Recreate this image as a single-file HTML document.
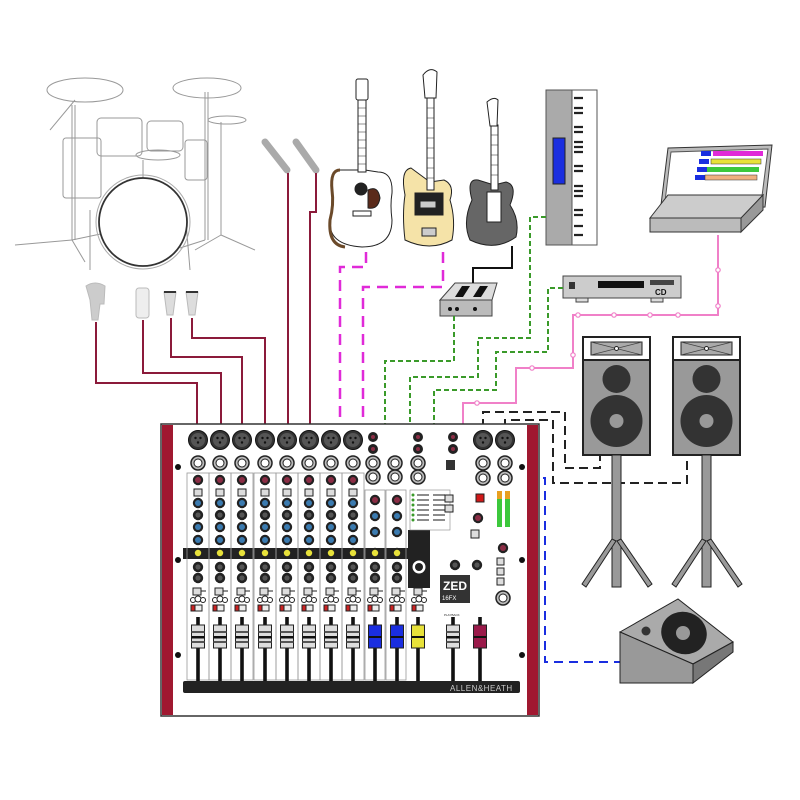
<!DOCTYPE html>
<html><head><meta charset="utf-8"><style>
html,body{margin:0;padding:0;background:#fff;width:800px;height:800px;overflow:hidden}
svg{display:block}
text{font-family:"Liberation Sans",sans-serif}
</style></head><body>
<svg width="800" height="800" viewBox="0 0 800 800" xmlns="http://www.w3.org/2000/svg">
<defs>
 <g id="knobK"><circle r="5.2" fill="#222"/><circle r="2.6" fill="#555"/></g>
 <g id="knobB"><circle r="5.2" fill="#222"/><circle r="3" fill="#3b7bb0"/></g>
 <g id="knobR"><circle r="5.2" fill="#222"/><circle r="3" fill="#8b2d45"/></g>
 <g id="knobY"><circle r="5.2" fill="#222"/><circle r="3.2" fill="#e8e23a"/></g>
 <g id="jack"><circle r="7" fill="#bbb" stroke="#222" stroke-width="1.5"/><circle r="4" fill="#fff" stroke="#222"/></g>
 <g id="rca"><circle r="5" fill="#222"/><circle r="2" fill="#8b2d45"/></g>
 <g id="xlr"><circle r="9.5" fill="#333" stroke="#111"/><circle r="7" fill="#555"/><circle cx="-2.5" cy="-2" r="1.2" fill="#111"/><circle cx="2.5" cy="-2" r="1.2" fill="#111"/><circle cx="0" cy="2.5" r="1.2" fill="#111"/></g>
 <g id="fader"><rect x="-1.8" y="617" width="3.6" height="64" fill="#111"/><rect x="-6.5" y="625" width="13" height="23" fill="#ddd" stroke="#222"/><rect x="-6.5" y="631" width="13" height="2" fill="#555"/><rect x="-6.5" y="636" width="13" height="2.5" fill="#111"/><rect x="-6.5" y="641" width="13" height="2" fill="#555"/></g>
 <g id="bot"><rect x="-5" y="588" width="8" height="7" fill="#ddd" stroke="#222"/><line x1="3" y1="591" x2="8" y2="591" stroke="#222"/><circle cx="-5" cy="600" r="2.5" fill="#fff" stroke="#222"/><circle cx="0" cy="599" r="3" fill="#fff" stroke="#222"/><circle cx="5" cy="600" r="2.5" fill="#fff" stroke="#222"/><rect x="-7" y="605" width="11" height="6" fill="#c22" stroke="#222"/><rect x="-3" y="605" width="7" height="6" fill="#eee" stroke="#222"/></g>
 <g id="mono">
  <use href="#xlr" y="440"/><use href="#jack" y="463"/>
  <rect x="-11" y="473" width="22" height="207" fill="none" stroke="#999" stroke-width="0.8"/>
  <use href="#knobR" y="480"/><rect x="-4" y="489" width="8" height="7" fill="#ddd" stroke="#222"/>
  <use href="#knobB" y="503"/><use href="#knobK" y="515"/><use href="#knobB" y="527"/><use href="#knobB" y="540"/>
  <use href="#knobY" y="553"/><use href="#knobK" y="567"/><use href="#knobK" y="578"/>
  <use href="#bot"/><use href="#fader"/>
 </g>
 <g id="spk">
  <rect x="0" y="0" width="67" height="118" fill="#999" stroke="#222" stroke-width="2"/>
  <rect x="0" y="0" width="67" height="23" fill="#fff" stroke="#222" stroke-width="2"/>
  <rect x="8" y="5" width="51" height="13" fill="#aaa" stroke="#222"/>
  <path d="M8 5 L59 18 M8 18 L59 5" stroke="#444" stroke-width=".7"/><circle cx="33.5" cy="11.5" r="2" fill="#fff" stroke="#222"/>
  <circle cx="33.5" cy="42" r="14" fill="#333"/>
  <circle cx="33.5" cy="84" r="26" fill="#333"/><circle cx="33.5" cy="84" r="7" fill="#999"/>
  <rect x="29" y="118" width="9" height="132" fill="#999" stroke="#222"/>
  <polygon points="29,202 33,204 3,250 -1,247" fill="#999" stroke="#222"/>
  <polygon points="38,202 34,204 65,250 69,247" fill="#999" stroke="#222"/>
 </g>
</defs>

<!-- DRUMS -->
<g fill="none" stroke="#999" stroke-width="1">
 <ellipse cx="85" cy="90" rx="38" ry="12"/>
 <ellipse cx="207" cy="88" rx="34" ry="10"/>
 <ellipse cx="227" cy="120" rx="19" ry="4"/>
 <rect x="97" y="118" width="45" height="38" rx="4"/>
 <rect x="147" y="121" width="36" height="30" rx="4"/>
 <rect x="63" y="138" width="38" height="60" rx="3"/>
 <ellipse cx="158" cy="155" rx="22" ry="5"/>
 <rect x="185" y="140" width="22" height="40" rx="3"/>
 <line x1="72" y1="105" x2="72" y2="240"/><line x1="75" y1="105" x2="75" y2="240"/><line x1="72" y1="240" x2="15" y2="245"/><line x1="72" y1="240" x2="110" y2="232"/><line x1="72" y1="240" x2="85" y2="262"/>
 <line x1="50" y1="130" x2="75" y2="100"/>
 <line x1="205" y1="92" x2="205" y2="240"/><line x1="208" y1="92" x2="208" y2="240"/><line x1="205" y1="240" x2="180" y2="248"/>
 <line x1="221" y1="122" x2="221" y2="235"/><line x1="221" y1="235" x2="255" y2="250"/><line x1="221" y1="235" x2="195" y2="250"/>
 <line x1="90" y1="210" x2="90" y2="270"/><line x1="185" y1="210" x2="190" y2="270"/>
 <line x1="143" y1="160" x2="143" y2="178"/>
</g>
<circle cx="143" cy="222" r="44" fill="#fff" stroke="#333" stroke-width="1.8"/>
<circle cx="143" cy="222" r="47" fill="none" stroke="#aaa"/>

<!-- drum mics -->
<path d="M86 286 Q95 280 105 286 L104 304 L100 304 L98 320 L92 320 L90 300 Z" fill="#ccc" stroke="#bbb"/>
<rect x="136" y="288" width="13" height="30" rx="3" fill="#eee" stroke="#bbb"/>
<polygon points="164,292 176,292 173,315 167,315" fill="#ddd" stroke="#bbb"/><rect x="164" y="291" width="12" height="2" fill="#333"/>
<polygon points="186,292 198,292 195,315 189,315" fill="#ddd" stroke="#bbb"/><rect x="186" y="291" width="12" height="2" fill="#333"/>
<!-- vocal mics -->
<line x1="265" y1="142" x2="287" y2="170" stroke="#aaa" stroke-width="7" stroke-linecap="round"/>
<line x1="296" y1="142" x2="316" y2="170" stroke="#aaa" stroke-width="7" stroke-linecap="round"/>

<!-- red cables -->
<g fill="none" stroke="#8b1a3a" stroke-width="2">
 <path d="M96 322 V383 H197 V428"/>
 <path d="M143 320 V373 H221 V428"/>
 <path d="M171 318 V357 H242 V428"/>
 <path d="M192 318 V338 H265 V428"/>
 <path d="M288 173 V428"/>
 <path d="M316 173 V212 H310 V428"/>
</g>

<!-- guitars -->
<g stroke="#222" stroke-width="1">
 <path d="M340 170 Q330 170 332 190 Q334 205 330 220 Q328 245 362 247 Q392 247 392 220 Q390 205 392 193 Q393 172 378 172 L365 170 Z" fill="#fff"/>
 <path d="M340 170 Q330 170 332 190 Q334 205 330 220 Q328 245 345 247" fill="none" stroke="#6b4a2a" stroke-width="3"/>
 <circle cx="361" cy="189" r="6" fill="#222"/><path d="M368 190 Q378 185 380 198 Q378 210 368 208 Z" fill="#5a2a1a"/>
 <rect x="353" y="211" width="18" height="5" fill="#fff"/>
 <rect x="358" y="100" width="8" height="72" fill="#fff"/>
 <path d="M358 108h8M358 116h8M358 124h8M358 132h8M358 140h8M358 148h8M358 156h8M358 164h8" stroke-width=".6"/>
 <rect x="356" y="79" width="12" height="21" rx="2" fill="#fff"/>
 <path d="M411 168 Q400 170 405 195 Q402 215 405 240 Q430 252 452 240 Q456 220 450 200 Q455 185 444 180 L430 182 Z" fill="#f5e3a8"/>
 <rect x="415" y="193" width="28" height="22" fill="#222"/><rect x="420" y="201" width="16" height="7" fill="#ccc"/>
 <rect x="422" y="228" width="14" height="8" fill="#ccc"/>
 <rect x="427" y="98" width="7" height="92" fill="#fff"/>
 <path d="M427 108h7M427 118h7M427 128h7M427 138h7M427 148h7M427 158h7M427 168h7M427 178h7" stroke-width=".6"/>
 <path d="M425 98 L423 75 Q430 66 437 72 L436 98 Z" fill="#fff"/>
 <path d="M478 180 Q466 178 472 200 Q462 222 470 240 Q495 252 516 237 Q520 220 510 205 Q518 185 506 182 L494 185 Z" fill="#666"/>
 <rect x="487" y="192" width="14" height="30" fill="#fff"/>
 <rect x="491" y="125" width="7" height="65" fill="#fff"/>
 <path d="M491 135h7M491 145h7M491 155h7M491 165h7M491 175h7" stroke-width=".6"/>
 <path d="M490 126 L487 102 Q494 96 498 100 L497 126 Z" fill="#fff"/>
</g>
<!-- keyboard -->
<rect x="546" y="90" width="51" height="155" fill="#aaa" stroke="#555"/>
<rect x="572" y="90" width="25" height="155" fill="#fff" stroke="#555"/>
<g stroke="#222" stroke-width="2.2">
 <path d="M574 98h9M574 108h9M574 113h9M574 127h9M574 132h9M574 142h9M574 147h9M574 152h9M574 166h9M574 171h9M574 186h9M574 191h9M574 196h9M574 210h9M574 215h9M574 226h9M574 235h9"/>
</g>
<rect x="553" y="138" width="12" height="46" fill="#1a2ee0" stroke="#222"/>
<!-- laptop -->
<polygon points="660,213 668,148 772,145 765,207" fill="#bbb" stroke="#333"/>
<polygon points="664,210 671,152 768,149 761,204" fill="#fff" stroke="#555"/>
<rect x="701" y="151" width="10" height="5" fill="#1a2ee0"/><rect x="713" y="151" width="50" height="5" fill="#e02ad8"/>
<rect x="699" y="159" width="10" height="5" fill="#1a2ee0"/><rect x="711" y="159" width="50" height="5" fill="#e8e23a" stroke="#333" stroke-width=".5"/>
<rect x="697" y="167" width="10" height="5" fill="#1a2ee0"/><rect x="707" y="167" width="52" height="5" fill="#3cc83c"/>
<rect x="695" y="175" width="10" height="5" fill="#1a2ee0"/><rect x="705" y="175" width="52" height="5" fill="#f0b080" stroke="#333" stroke-width=".5"/>
<polygon points="650,218 668,195 763,195 740,220" fill="#ccc" stroke="#333"/>
<rect x="650" y="218" width="91" height="14" fill="#bbb" stroke="#333"/>
<polygon points="741,218 763,195 763,210 741,232" fill="#999" stroke="#333"/>
<!-- CD player -->
<rect x="563" y="276" width="118" height="22" fill="#ccc" stroke="#444"/>
<rect x="569" y="282" width="6" height="7" fill="#333"/><rect x="598" y="281" width="46" height="7" fill="#111"/>
<rect x="650" y="280" width="24" height="5" fill="#444"/>
<text x="655" y="295" font-size="8" font-weight="bold" fill="#111">CD</text>
<rect x="576" y="298" width="12" height="4" fill="#ddd" stroke="#444"/><rect x="651" y="298" width="12" height="4" fill="#ddd" stroke="#444"/>
<!-- DI box -->
<polygon points="440,300 455,283 497,283 492,300" fill="#ddd" stroke="#444"/>
<rect x="440" y="300" width="52" height="16" fill="#bbb" stroke="#444"/>
<polygon points="462,286 470,286 463,297 455,297" fill="#111"/><polygon points="480,286 488,286 481,297 473,297" fill="#111"/>
<circle cx="450" cy="309" r="2" fill="#111"/><circle cx="457" cy="309" r="2" fill="#111"/><circle cx="475" cy="309" r="2" fill="#111"/>
<path d="M512 246 V268 H473 V283" fill="none" stroke="#111" stroke-width="2"/>

<!-- magenta -->
<g fill="none" stroke="#e02ad8" stroke-width="2.5" stroke-dasharray="11,7">
 <path d="M366 252 V267 H340 V455"/>
 <path d="M443 252 V287 H363 V455"/>
</g>
<!-- green -->
<g fill="none" stroke="#3a9a2a" stroke-width="2" stroke-dasharray="5,3">
 <path d="M454 316 V361 H385 V460"/>
 <path d="M546 217 H530 V338 H478 V377 H410 V460"/>
 <path d="M563 288 H548 V352 H496 V390 H434 V468"/>
</g>
<!-- pink -->
<path d="M718 235 V315 H573 V368 H516 V403 H463 V460" fill="none" stroke="#f080c8" stroke-width="2"/>
<g fill="#fff" stroke="#f080c8" stroke-width="1.2">
 <circle cx="718" cy="270" r="2.2"/><circle cx="718" cy="306" r="2.2"/><circle cx="678" cy="315" r="2.2"/><circle cx="650" cy="315" r="2.2"/><circle cx="614" cy="315" r="2.2"/><circle cx="578" cy="315" r="2.2"/><circle cx="573" cy="355" r="2.2"/><circle cx="532" cy="368" r="2.2"/><circle cx="477" cy="403" r="2.2"/>
</g>
<!-- black dashed -->
<g fill="none" stroke="#222" stroke-width="2" stroke-dasharray="9,5">
 <path d="M483 428 V412 H565 V468 H600 V455"/>
 <path d="M505 428 V420 H553 V483 H687 V455"/>
</g>
<!-- blue -->
<path d="M513 478 H545 V662 H620" fill="none" stroke="#1a2ee0" stroke-width="2" stroke-dasharray="9,6"/>

<!-- speakers -->
<use href="#spk" x="583" y="337"/>
<use href="#spk" x="673" y="337"/>
<!-- monitor -->
<polygon points="620,632 678,599 733,642 693,664" fill="#aaa" stroke="#222"/>
<polygon points="620,632 693,664 693,683 620,683" fill="#999" stroke="#222"/>
<polygon points="693,664 733,642 733,652 693,683" fill="#777" stroke="#222"/>
<ellipse cx="684" cy="633" rx="23" ry="21" fill="#222" transform="rotate(20 684 633)"/>
<circle cx="683" cy="633" r="7" fill="#999"/>
<circle cx="646" cy="631" r="4.5" fill="#333"/>

<!-- MIXER -->
<rect x="161" y="424" width="378" height="292" fill="#fff" stroke="#333" stroke-width="1.5"/>
<rect x="162" y="425" width="11" height="290" fill="#a01830"/>
<rect x="527" y="425" width="11" height="290" fill="#a01830"/>
<g fill="#111"><circle cx="178" cy="467" r="3"/><circle cx="178" cy="560" r="3"/><circle cx="178" cy="655" r="3"/><circle cx="522" cy="467" r="3"/><circle cx="522" cy="560" r="3"/><circle cx="522" cy="655" r="3"/></g>
<rect x="183" y="548" width="240" height="11" fill="#222"/>
<use href="#mono" x="198"/><use href="#mono" x="220"/><use href="#mono" x="242"/><use href="#mono" x="265"/>
<use href="#mono" x="287"/><use href="#mono" x="309"/><use href="#mono" x="331"/><use href="#mono" x="353"/>
<!-- stereo channels -->
<g>
 <use href="#rca" x="373" y="437"/><use href="#rca" x="373" y="449"/>
 <use href="#rca" x="418" y="437"/><use href="#rca" x="418" y="449"/>
 <use href="#rca" x="453" y="437"/><use href="#rca" x="453" y="449"/>
 <use href="#jack" x="373" y="463"/><use href="#jack" x="373" y="477"/>
 <use href="#jack" x="395" y="463"/><use href="#jack" x="395" y="477"/>
 <use href="#jack" x="418" y="463"/><use href="#jack" x="418" y="477"/>
 <rect x="365" y="490" width="20" height="190" fill="none" stroke="#999" stroke-width=".8"/>
 <rect x="386" y="490" width="20" height="190" fill="none" stroke="#999" stroke-width=".8"/>
 <use href="#knobR" x="375" y="500"/><use href="#knobB" x="375" y="516"/><use href="#knobB" x="375" y="532"/>
 <use href="#knobR" x="397" y="500"/><use href="#knobB" x="397" y="516"/><use href="#knobB" x="397" y="532"/>
 <use href="#knobY" x="375" y="553"/><use href="#knobY" x="397" y="553"/>
 <use href="#knobK" x="375" y="567"/><use href="#knobK" x="375" y="578"/><use href="#knobK" x="397" y="567"/><use href="#knobK" x="397" y="578"/>
 <use href="#bot" x="375"/><use href="#bot" x="397"/><use href="#bot" x="419"/>
 <rect x="408" y="530" width="22" height="58" fill="#222"/>
 <circle cx="419" cy="567" r="6" fill="#fff" stroke="#fff"/><circle cx="419" cy="567" r="4" fill="#222"/>
 <rect x="410" y="490" width="40" height="40" fill="#fff" stroke="#888" stroke-width=".6"/>
 <g fill="#3a9a2a"><circle cx="413" cy="495" r="1.5"/><circle cx="413" cy="500" r="1.5"/><circle cx="413" cy="505" r="1.5"/><circle cx="413" cy="510" r="1.5"/><circle cx="413" cy="515" r="1.5"/><circle cx="413" cy="520" r="1.5"/></g>
 <g stroke="#666" stroke-width="1.5"><path d="M417 495h12M417 500h12M417 505h12M417 510h12M417 515h12M417 520h12M433 495h12M433 500h12M433 505h12M433 510h12M433 515h12M433 520h12"/></g>
</g>
<!-- stereo faders -->
<g><rect x="373.2" y="617" width="3.6" height="64" fill="#111"/><rect x="368.5" y="625" width="13" height="23" fill="#1a2ee0" stroke="#222"/><rect x="368.5" y="636" width="13" height="2" fill="#111"/></g>
<g><rect x="395.2" y="617" width="3.6" height="64" fill="#111"/><rect x="390.5" y="625" width="13" height="23" fill="#1a2ee0" stroke="#222"/><rect x="390.5" y="636" width="13" height="2" fill="#111"/></g>
<g><rect x="416.2" y="617" width="3.6" height="64" fill="#111"/><rect x="411.5" y="625" width="13" height="23" fill="#e8e23a" stroke="#222"/><rect x="411.5" y="636" width="13" height="2" fill="#111"/></g>
<use href="#fader" x="453"/>
<g><rect x="478.2" y="617" width="3.6" height="64" fill="#111"/><rect x="473.5" y="625" width="13" height="23" fill="#9a1a4a" stroke="#222"/><rect x="473.5" y="636" width="13" height="2" fill="#111"/></g>
<!-- master section -->
<use href="#xlr" x="483" y="440"/><use href="#xlr" x="505" y="440"/>
<use href="#jack" x="483" y="463"/><use href="#jack" x="505" y="463"/>
<use href="#jack" x="483" y="478"/><use href="#jack" x="505" y="478"/>
<rect x="446" y="460" width="9" height="10" fill="#333"/>
<rect x="445" y="495" width="8" height="7" fill="#ddd" stroke="#222"/><rect x="445" y="505" width="8" height="7" fill="#ddd" stroke="#222"/>
<rect x="476" y="494" width="8" height="8" fill="#d01818" stroke="#222"/>
<use href="#knobR" x="478" y="518"/><use href="#knobR" x="503" y="548"/>
<rect x="471" y="530" width="8" height="8" fill="#ddd" stroke="#222"/>
<rect x="497" y="491" width="5" height="36" fill="#3cc83c"/><rect x="505" y="491" width="5" height="36" fill="#3cc83c"/>
<rect x="497" y="491" width="5" height="8" fill="#e8a020"/><rect x="505" y="491" width="5" height="8" fill="#e8a020"/>
<use href="#knobK" x="455" y="565"/><use href="#knobK" x="477" y="565"/>
<rect x="497" y="558" width="7" height="7" fill="#ddd" stroke="#222"/><rect x="497" y="568" width="7" height="7" fill="#ddd" stroke="#222"/><rect x="497" y="578" width="7" height="7" fill="#ddd" stroke="#222"/>
<use href="#jack" x="503" y="598"/>
<rect x="440" y="575" width="30" height="28" fill="#333"/>
<text x="443" y="590" font-size="12" font-weight="bold" fill="#fff">ZED</text>
<text x="442" y="600" font-size="6" fill="#fff">16FX</text>
<text x="444" y="616" font-size="3" fill="#222">PLAYBACK</text>
<!-- bottom bar -->
<rect x="183" y="681" width="337" height="12" rx="2" fill="#222"/>
<text x="450" y="691" font-size="8" fill="#ccc" letter-spacing="0.5">ALLEN&amp;HEATH</text>
</svg>
</body></html>
